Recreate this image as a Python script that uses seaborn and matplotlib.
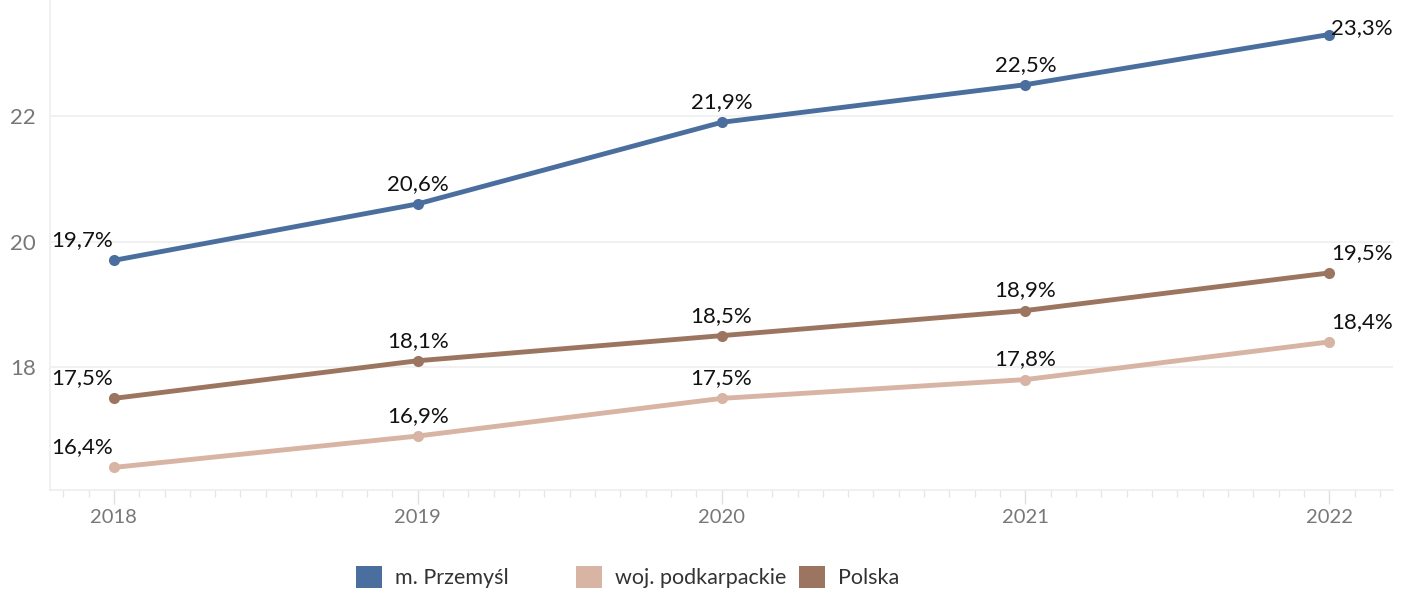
import pandas as pd
import matplotlib
matplotlib.use("Agg")
import matplotlib.pyplot as plt
import seaborn as sns
from matplotlib.patches import Patch
from matplotlib.ticker import MultipleLocator

years = [2018, 2019, 2020, 2021, 2022]
series = ["m. Przemyśl", "woj. podkarpackie", "Polska"]
przemysl = [19.7, 20.6, 21.9, 22.5, 23.3]
podkarpackie = [16.4, 16.9, 17.5, 17.8, 18.4]
polska = [17.5, 18.1, 18.5, 18.9, 19.5]
colors = ["#4a6f9e", "#d7b4a4", "#9b7560"]

df = pd.DataFrame({
    "rok": years * 3,
    "wartosc": przemysl + podkarpackie + polska,
    "seria": [s for s in series for _ in years],
})

sns.set_theme(style="white")
plt.rcParams["font.family"] = ["Lato", "DejaVu Sans"]

fig = plt.figure(figsize=(14.1, 5.9), dpi=100)
ax = fig.add_axes([0.0355, 0.1695, 0.9525, 0.8305])

sns.lineplot(data=df, x="rok", y="wartosc", hue="seria", hue_order=series,
             palette=colors, marker="o", markersize=8, markeredgewidth=0,
             linewidth=3.5, legend=False, ax=ax)

ax.set_xlim(2017.79, 2022.21)
ax.set_ylim(16.04, 23.85)
ax.set_xticks(years)
ax.set_xticklabels([str(y) for y in years])
ax.xaxis.set_minor_locator(MultipleLocator(1 / 12))
ax.set_yticks([18, 20, 22])
ax.set_xlabel("")
ax.set_ylabel("")
ax.grid(axis="y", color="#efefef", linewidth=1.2)
ax.tick_params(axis="y", length=0, pad=10, labelsize=16, labelcolor="#777777")
ax.tick_params(axis="x", which="major", bottom=True, length=10, width=1,
               color="#e0e0e0", pad=4, labelsize=14.5, labelcolor="#777777")
ax.tick_params(axis="x", which="minor", bottom=True, length=5, width=1,
               color="#e6e6e6")
for side in ["top", "right"]:
    ax.spines[side].set_visible(False)
ax.spines["left"].set_color("#f0f0f0")
ax.spines["bottom"].set_color("#eeeeee")

# etykiety wartości
for vals in [przemysl, podkarpackie, polska]:
    for i, (x, v) in enumerate(zip(years, vals)):
        txt = f"{v:.1f}%".replace(".", ",")
        if i == 0:
            ha, dx = "right", -1
        elif i == len(years) - 1:
            ha, dx = "left", 2
        else:
            ha, dx = "center", 0
        dy = 20
        if vals is przemysl and i == len(years) - 1:
            dy = 6
        ax.annotate(txt, (x, v), xytext=(dx, dy), textcoords="offset pixels",
                    ha=ha, va="center", fontsize=16, color="#111111")

# legenda
leg_x = [0.239, 0.395, 0.553]
for name, c, lx in zip(series, colors, leg_x):
    fig.legend(handles=[Patch(facecolor=c, edgecolor="none")], labels=[name],
               loc="center left", bbox_to_anchor=(lx, 0.022), frameon=False,
               handlelength=1.2, handleheight=1.2, handletextpad=0.6,
               prop={"size": 15.5}, labelcolor="#333333")

fig.savefig("out.png", dpi=100)
